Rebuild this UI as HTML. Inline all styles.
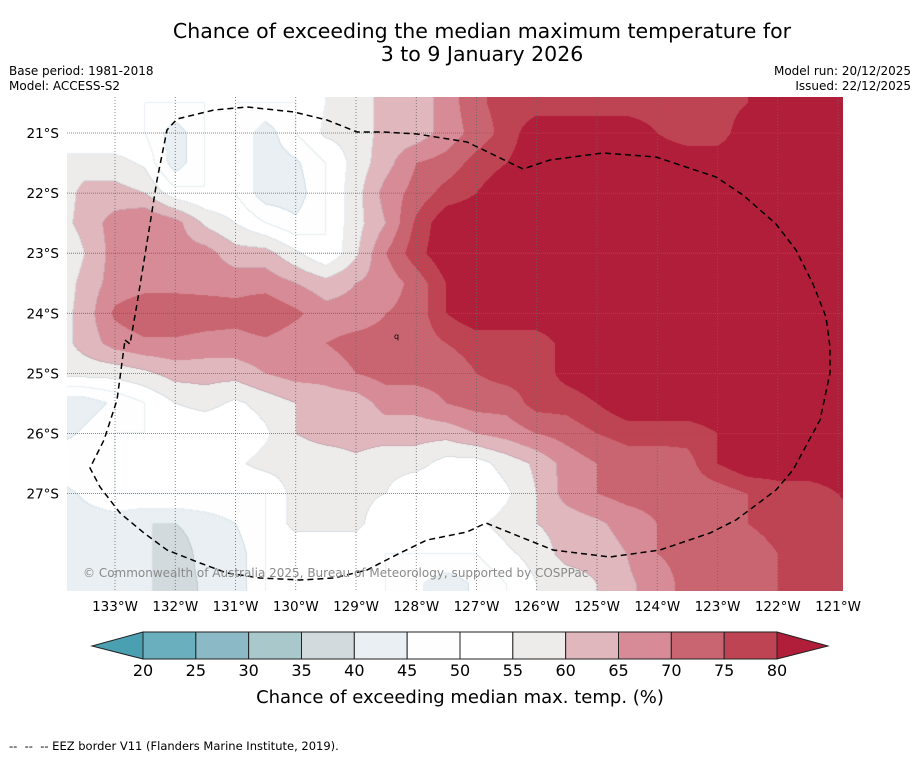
<!DOCTYPE html>
<html><head><meta charset="utf-8">
<style>
html,body{margin:0;padding:0;background:#fff;width:919px;height:758px;overflow:hidden;font-family:"DejaVu Sans","Liberation Sans",sans-serif;}
#wrap{position:relative;width:919px;height:758px;}
#map{position:absolute;left:67px;top:97px;}
#ov{position:absolute;left:0;top:0;}
</style></head>
<body>
<div id="wrap">
<canvas id="map" width="776" height="494"></canvas>
<svg id="ov" width="919" height="758" xmlns="http://www.w3.org/2000/svg">
<text x="482" y="38" text-anchor="middle" font-size="20.5" fill="#000">Chance of exceeding the median maximum temperature for</text>
<text x="482" y="61" text-anchor="middle" font-size="20.5" fill="#000">3 to 9 January 2026</text>
<text x="9" y="75" font-size="12">Base period: 1981-2018</text>
<text x="9" y="90" font-size="12">Model: ACCESS-S2</text>
<text x="911" y="75" font-size="12" text-anchor="end">Model run: 20/12/2025</text>
<text x="911" y="90" font-size="12" text-anchor="end">Issued: 22/12/2025</text>
<g id="grid"></g>
<path id="eez" fill="none" stroke="#000" stroke-width="1.5" stroke-dasharray="6,4"
 d="M125,340 L130,344 L137,304 L150,224 L157,180 L167,130 L177,119 L214,110 L247,107 L294,112 L327,120 L357,132 L384,132 L417,134 L467,142 L523,169 L550,160 L603,153 L656,157 L716,177 L743,195 L776,224 L796,250 L813,284 L826,317 L830,347 L830,373 L820,420 L793,470 L776,490 L736,520 L710,533 L660,550 L610,557 L553,550 L486,523 L467,532 L427,540 L400,553 L367,570 L334,578 L300,580 L260,578 L227,573 L200,563 L167,550 L144,533 L120,513 L100,487 L90,468 L104,440 L117,400 L125,340"/>
<text x="83" y="577" font-size="12" fill="#8a8a8a">© Commonwealth of Australia 2025, Bureau of Meteorology, supported by COSPPac</text>
<text x="394" y="339" font-size="8" fill="#000">q</text>
<g id="xticks"></g>
<g id="yticks"></g>
<g id="cbar"></g>
<text x="460" y="703" text-anchor="middle" font-size="18">Chance of exceeding median max. temp. (%)</text>
<text x="9" y="750" font-size="11.5" xml:space="preserve">--  --  -- EEZ border V11 (Flanders Marine Institute, 2019).</text>
</svg>
</div>
<script>
// grid: lons 134.0 -> 120.5 step 0.5 (W), lats 20.0 -> 29.0 step 0.5 (S)
const gridLons=[134,133.5,133,132.5,132,131.5,131,130.5,130,129.5,129,128.5,128,127.5,127,126.5,126,125.5,125,124.5,124,123.5,123,122.5,122,121.5,121,120.5];
const gridLats=[20,20.5,21,21.5,22,22.5,23,23.5,24,24.5,25,25.5,26,26.5,27,27.5,28,28.5,29];
const r00=[50,50,50,50,50,50,50,50,50,55,57,62,62,67,74,77,77,77,77,77,77,77,77,80,84,84,84,84];
const r01=[50,50,50,50,50,50,50,50,50,55,57,62,62,67,74,77,77,77,77,77,77,77,77,80,84,84,84,84];
const r02=[50,50,50,50,42,50,50,42,50,56,57,62,62,67,72,77,84,84,84,84,80,77,77,84,84,84,84,84];
const r03=[57,57,57,54,42,50,50,42,44,50,57,63,70,72,77,80,84,84,84,84,84,84,84,84,84,84,84,84];
const r04=[55,62,62,60,52,50,50,42,42,50,58,67,72,77,80,84,84,84,84,84,84,84,84,84,84,84,84,84];
const r05=[57,62,67,70,67,59,55,50,46,50,58,65,76,84,84,84,84,84,84,84,84,84,84,84,84,84,84,84];
const r06=[52,60,67,67,67,67,62,62,56,50,59,70,78,84,84,84,84,84,84,84,84,84,84,84,84,84,84,84];
const r07=[55,62,67,68,68,68,68,68,65,62,65,67,72,80,84,84,84,84,84,84,84,84,84,84,84,84,84,84];
const r08=[57,62,71,74,74,73,72,74,71,67,67,70,72,80,84,84,84,84,84,84,84,84,84,84,84,84,84,84];
const r09=[57,62,67,69,69,68,68,69,67,70,72,72,72,75,77,77,77,82,84,84,84,84,84,84,84,84,84,84];
const r10=[57,57,57,59,62,62,62,65,67,67,70,72,72,72,75,77,77,82,84,84,84,84,84,84,84,84,84,84];
const r11=[42,42,46,50,55,57,54,57,60,62,62,67,67,70,72,72,77,77,80,84,84,84,84,84,84,84,84,84];
const r12=[42,46,50,50,50,50,50,54,60,62,62,62,62,62,65,67,70,72,75,77,77,77,80,84,84,84,84,84];
const r13=[50,50,50,50,50,50,54,57,57,57,59,57,57,53,53,57,61,67,70,72,72,73,80,84,84,84,84,84];
const r14=[42,46,50,50,50,50,50,50,57,57,57,55,50,50,50,54,60,67,70,72,72,72,72,75,77,77,80,84];
const r15=[42,42,42,40,40,42,45,50,57,57,57,50,50,50,54,57,60,62,64,67,70,72,72,75,77,77,77,77];
const r16=[42,42,42,41,37,42,42,50,50,50,50,50,50,50,50,54,57,62,62,65,70,72,72,72,75,77,77,77];
const r17=[42,42,42,41,37,41,42,50,50,50,50,50,46,42,46,50,55,57,60,64,67,72,72,72,75,77,77,77];
const r18=[42,42,42,41,37,41,42,50,50,50,50,50,46,42,46,50,55,57,60,64,67,72,72,72,75,77,77,77];
const gridRows=[r00,r01,r02,r03,r04,r05,r06,r07,r08,r09,r10,r11,r12,r13,r14,r15,r16,r17,r18];
const levels=[20,25,30,35,40,45,50,55,60,65,70,75,80];
const binColors=["#4aa0b0","#6aafbd","#8bbac6","#a9c8cc","#d3dadd","#e9eff2","#fefefe","#ffffff","#eeeceb","#e0b7bd","#d68b96","#c96570","#bf4453","#b01e3a"];
const lonTicks=[133,132,131,130,129,128,127,126,125,124,123,122,121];
const latTicks=[21,22,23,24,25,26,27];

function xOfLon(lon){return 115+(133-lon)*60.25;}
function yOfLat(lat){return 133+(lat-21)*60.1;}
function lonOfX(x){return 133-(x-115)/60.25;}
function latOfY(y){return 21+(y-133)/60.1;}
function binOf(v){let b=0;while(b<levels.length&&v>=levels[b])b++;return b;}
function hex(c){return [parseInt(c.substr(1,2),16),parseInt(c.substr(3,2),16),parseInt(c.substr(5,2),16)];}
function valueAt(lon,lat){
  let c=(gridLons[0]-lon)/0.5, r=(lat-gridLats[0])/0.5;
  c=Math.max(0,Math.min(gridLons.length-1.001,c)); r=Math.max(0,Math.min(gridLats.length-1.001,r));
  const c0=Math.floor(c), r0=Math.floor(r), fc=c-c0, fr=r-r0;
  const a=gridRows[r0][c0], b=gridRows[r0][c0+1], d=gridRows[r0+1][c0], e=gridRows[r0+1][c0+1];
  return (a*(1-fc)+b*fc)*(1-fr)+(d*(1-fc)+e*fc)*fr;
}
(function draw(){
  const cv=document.getElementById('map'), ctx=cv.getContext('2d');
  const W=cv.width,H=cv.height, img=ctx.createImageData(W,H);
  const bins=new Int8Array(W*H);
  for(let j=0;j<H;j++)for(let i=0;i<W;i++){bins[j*W+i]=binOf(valueAt(lonOfX(67+i+0.5),latOfY(97+j+0.5)));}
  const rgb=binColors.map(hex);
  for(let j=0;j<H;j++)for(let i=0;i<W;i++){
    const k=j*W+i, b=bins[k]; let col=rgb[b].slice();
    const edge=(i<W-1&&bins[k+1]!==b)||(j<H-1&&bins[k+W]!==b);
    if(edge&&b>=4&&b<=9){col=[col[0]-22,col[1]-16,col[2]-12];}
    img.data[k*4]=col[0];img.data[k*4+1]=col[1];img.data[k*4+2]=col[2];img.data[k*4+3]=255;
  }
  ctx.putImageData(img,0,0);
})();
const NS="http://www.w3.org/2000/svg";
function mk(tag,attrs,parent){const e=document.createElementNS(NS,tag);for(const k in attrs)e.setAttribute(k,attrs[k]);parent.appendChild(e);return e;}
const grid=document.getElementById('grid'), xt=document.getElementById('xticks'), yt=document.getElementById('yticks');
lonTicks.forEach(l=>{
  const x=xOfLon(l);
  const ln=mk('line',{x1:x,x2:x,y1:97,y2:591,stroke:'#666','stroke-width':0.8,'stroke-dasharray':'1,2'},grid);
  
  
  const t=mk('text',{x:x,y:611,'text-anchor':'middle','font-size':13.5},xt);
  t.textContent=l+'°W';
  
  
});
latTicks.forEach(l=>{
  const y=yOfLat(l);
  const ln=mk('line',{x1:67,x2:843,y1:y,y2:y,stroke:'#666','stroke-width':0.8,'stroke-dasharray':'1,1'},grid);
  
  
  const t=mk('text',{x:59,y:y+5,'text-anchor':'end','font-size':13.5},yt);
  t.textContent=l+'°S';
  
  
});
// colorbar
const cb=document.getElementById('cbar');
const cbX0=143,cbX1=777,cbY0=632,cbY1=659;
function xOfLevel(v){return cbX0+(v-levels[0])/(levels[levels.length-1]-levels[0])*(cbX1-cbX0);}
const lt=mk('polygon',{points:`${cbX0},${cbY0} 92,646 ${cbX0},${cbY1}`,fill:binColors[0],stroke:'#222','stroke-width':1},cb);


const rt=mk('polygon',{points:`${cbX1},${cbY0} 828,646 ${cbX1},${cbY1}`,fill:binColors[13],stroke:'#222','stroke-width':1},cb);


for(let i=0;i<levels.length-1;i++){
  const x0=xOfLevel(levels[i]),x1=xOfLevel(levels[i+1]);
  const r=mk('rect',{x:x0,y:cbY0,width:x1-x0,height:cbY1-cbY0,fill:binColors[i+1],stroke:'#222','stroke-width':1},cb);
  
  
}
levels.forEach(v=>{
  const t=mk('text',{x:xOfLevel(v),y:676,'text-anchor':'middle','font-size':16},cb);
  t.textContent=v;
  
  
});
</script>
</body></html>
